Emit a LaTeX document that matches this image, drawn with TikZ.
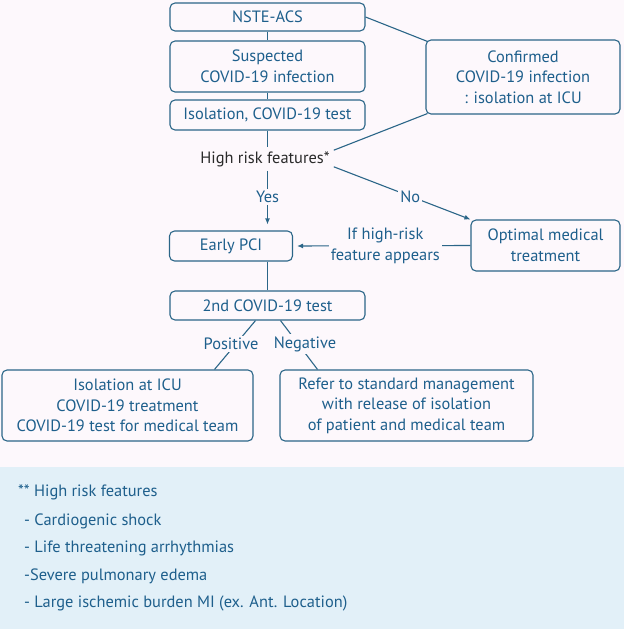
\documentclass[tikz,border=0pt]{standalone}
\usepackage{fontspec}
\setmainfont{PT Sans}
\usetikzlibrary{arrows.meta}
\definecolor{flowblue}{HTML}{1E5F8C}
\definecolor{lineblue}{HTML}{2B6688}
\definecolor{bgpink}{HTML}{FDF8FC}
\definecolor{panelblue}{HTML}{E2F0F8}
\definecolor{darktext}{HTML}{2A2A2A}
\tikzset{
  box/.style={draw=lineblue, line width=1.1pt, rounded corners=5pt, text=flowblue,
    align=center, inner sep=0pt},
  lbl/.style={fill=bgpink, text=flowblue, align=center, inner sep=2pt},
  flow/.style={draw=lineblue, line width=1.1pt},
  arr/.style={flow, -{Latex[length=6pt,width=5pt]}},
  note/.style={anchor=west, text=flowblue, inner sep=0pt}
}

\begin{document}
\begin{tikzpicture}[x=1pt,y=-1pt, every node/.style={font=\fontsize{16.4}{20.5}\selectfont}]
 \fill[bgpink] (0,0) rectangle (624,629);
 \fill[panelblue] (0,467) rectangle (624,629);

 \node[box, minimum width=195pt, minimum height=28pt] (acs)  at (267.5, 17) {NSTE-ACS};
 \node[box, minimum width=195pt, minimum height=51pt] (susp) at (267.5, 66.5) {Suspected\\COVID-19 infection};
 \node[box, minimum width=195pt, minimum height=30pt] (test) at (267.5, 115) {Isolation, COVID-19 test};
 \node[box, minimum width=194pt, minimum height=74pt] (conf) at (523, 77) {Confirmed\\COVID-19 infection\\: isolation at ICU};
 \node[text=darktext, inner sep=4pt] (high) at (265, 159) {High risk features*};
 \node[box, minimum width=123pt, minimum height=30pt] (pci)  at (231, 246) {Early PCI};
 \node[box, minimum width=149pt, minimum height=51pt] (omt)  at (545.5, 245.5) {Optimal medical\\treatment};
 \node[box, minimum width=195pt, minimum height=29pt] (test2) at (267.5, 305.5) {2nd COVID-19 test};
 \node[box, minimum width=251pt, minimum height=71pt] (icu)  at (127.5, 405.5) {Isolation at ICU\\COVID-19 treatment\\COVID-19 test for medical team};
 \node[box, minimum width=253pt, minimum height=71pt] (std)  at (406.5, 405.5) {Refer to standard management\\with release of isolation\\of patient and medical team};

 \draw[flow] (acs) -- (susp);
 \draw[flow] (susp) -- (test);
 \draw[flow] (test) -- (test.south |- high.north);
 \draw[flow] (acs.east) -- ([xshift=2pt,yshift=-2pt]conf.north west);
 \draw[flow] ([xshift=2pt,yshift=1pt]conf.south west) -- ([yshift=-3pt]high.north east);
 \draw[arr] ([yshift=4pt]high.south east) -- (omt.north west) node[lbl, pos=0.56] {No};
 \draw[arr, shorten >=6pt] (test.south |- high.south) -- (test.south |- pci.north) node[lbl, pos=0.44] {Yes};
 \draw[arr, shorten >=4pt] (omt.west) -- (pci.east) node[lbl, pos=0.48] {If high-risk\\feature appears};
 \draw[flow] (test2.north |- pci.south) -- (test2.north);
 \draw[flow] ([xshift=-12pt]test2.south) -- ([xshift=87pt]icu.north) node[lbl, pos=0.5, xshift=-4pt, yshift=1pt] {Positive};
 \draw[flow] ([xshift=13pt]test2.south) -- ([xshift=-89pt]std.north) node[lbl, pos=0.5, xshift=6pt, yshift=1pt] {Negative};

 % footnote panel
 \node[note] (n0) at (18, 492) {** High risk features};
 \node[note] (n1) at (24, 521) {- Cardiogenic shock};
 \node[note] (n2) at (24, 548) {- Life threatening arrhythmias};
 \node[note] (n3) at (24, 576) {-Severe pulmonary edema};
 \node[note] (n4) at (24, 603) {- Large ischemic burden MI (ex. Ant. Location)};
\end{tikzpicture}
\end{document}
